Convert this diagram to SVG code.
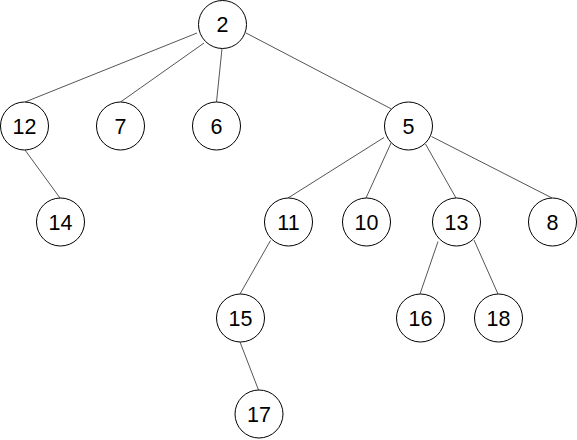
<svg xmlns="http://www.w3.org/2000/svg" width="577" height="440" viewBox="0 0 577 440">
<style>
.n circle{fill:#fff;stroke:#000;stroke-width:1}
.n text{font-family:"Liberation Sans",Arial,sans-serif;font-size:21.5px;fill:#000;text-anchor:middle;dominant-baseline:central}
.e line{stroke:#555;stroke-width:1}
</style>
<rect width="577" height="440" fill="#fff"/>
<g id="edges" class="e">
<line x1="197" y1="33" x2="25" y2="102"/>
<line x1="204" y1="43" x2="120.5" y2="102"/>
<line x1="222" y1="48.5" x2="216.5" y2="102"/>
<line x1="246" y1="33" x2="391.5" y2="109"/>
<line x1="25" y1="150" x2="60" y2="198"/>
<line x1="384" y1="137.5" x2="288" y2="198"/>
<line x1="391" y1="143" x2="366" y2="198"/>
<line x1="425.5" y1="144" x2="456" y2="198"/>
<line x1="431.5" y1="136.5" x2="552" y2="198"/>
<line x1="438" y1="241.5" x2="420" y2="294"/>
<line x1="474" y1="240" x2="498" y2="294"/>
<line x1="270.5" y1="240.5" x2="240" y2="294"/>
<line x1="240" y1="342" x2="258.5" y2="390"/>
</g>
<g id="n2" class="n"><circle cx="222.5" cy="24.5" r="24"/><text x="222.5" y="25">2</text></g>
<g id="n12" class="n"><circle cx="24.5" cy="126" r="24"/><text x="24.5" y="126.5">12</text></g>
<g id="n7" class="n"><circle cx="120.5" cy="126" r="24"/><text x="120.5" y="126.5">7</text></g>
<g id="n6" class="n"><circle cx="216.5" cy="126" r="24"/><text x="216.5" y="126.5">6</text></g>
<g id="n5" class="n"><circle cx="408.5" cy="126" r="24"/><text x="408.5" y="126.5">5</text></g>
<g id="n14" class="n"><circle cx="60.5" cy="222" r="24"/><text x="60.5" y="222.5">14</text></g>
<g id="n11" class="n"><circle cx="288.5" cy="222" r="24"/><text x="288.5" y="222.5">11</text></g>
<g id="n10" class="n"><circle cx="366.5" cy="222" r="24"/><text x="366.5" y="222.5">10</text></g>
<g id="n13" class="n"><circle cx="456.5" cy="222" r="24"/><text x="456.5" y="222.5">13</text></g>
<g id="n8" class="n"><circle cx="552.5" cy="222" r="24"/><text x="552.5" y="222.5">8</text></g>
<g id="n15" class="n"><circle cx="240.5" cy="318" r="24"/><text x="240.5" y="318.5">15</text></g>
<g id="n16" class="n"><circle cx="420.5" cy="318" r="24"/><text x="420.5" y="318.5">16</text></g>
<g id="n18" class="n"><circle cx="498.5" cy="318" r="24"/><text x="498.5" y="318.5">18</text></g>
<g id="n17" class="n"><circle cx="259" cy="414" r="24"/><text x="259" y="414.5">17</text></g>
</svg>
